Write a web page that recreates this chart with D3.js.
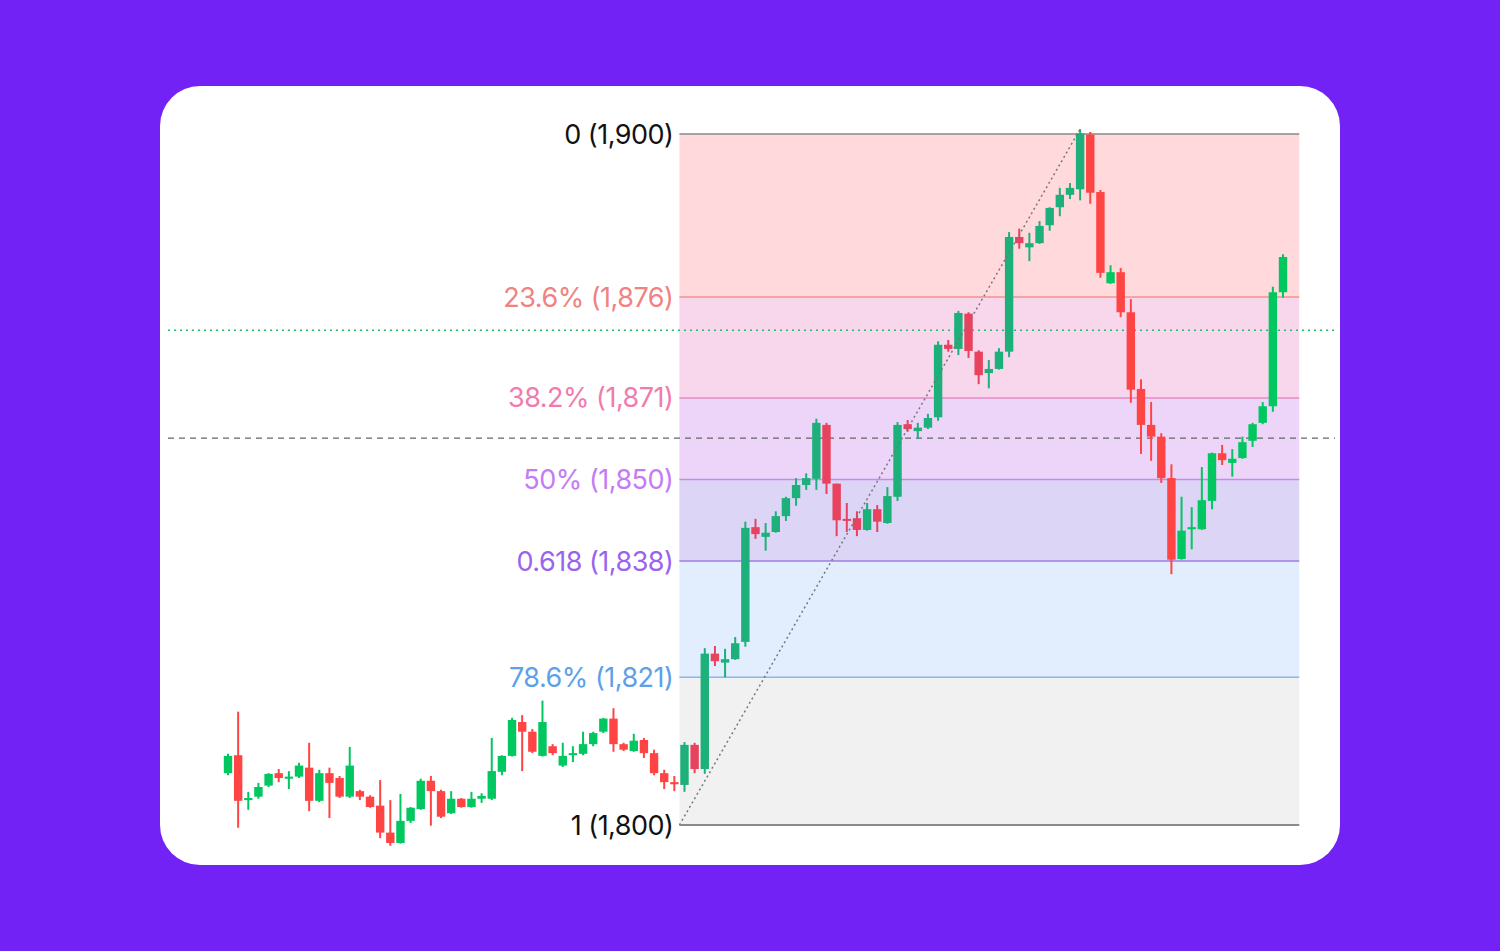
<!DOCTYPE html>
<html><head><meta charset="utf-8">
<script src="https://cdn.jsdelivr.net/npm/d3@7/dist/d3.min.js"></script>
<style>html,body{margin:0;padding:0;background:#7322F5;}svg{display:block;}</style>
</head><body><svg id="c" width="1500" height="951"></svg>
<script>
// OHLC candles (open, high, low, close)
const opens  = [1807.5,1810.1,1803.6,1804.1,1805.7,1807.5,1806.7,1807.0,1808.3,1803.5,1807.5,1806.8,1804.1,1804.9,1804.1,1802.8,1798.9,1797.4,1800.6,1802.3,1806.4,1804.9,1801.7,1803.8,1802.6,1803.8,1803.8,1807.7,1810.0,1814.9,1813.5,1810.0,1811.4,1808.6,1810.3,1810.3,1811.7,1813.5,1815.4,1811.7,1810.7,1812.3,1810.4,1807.5,1806.2,1805.8,1811.6,1808.1,1824.8,1823.5,1824.0,1826.5,1843.1,1841.7,1842.4,1844.7,1847.3,1849.2,1850.1,1857.9,1849.4,1844.3,1844.4,1842.7,1845.7,1843.7,1847.5,1858.0,1857.0,1857.5,1859.0,1869.5,1868.9,1874.0,1868.5,1865.4,1866.0,1868.5,1885.1,1883.6,1884.2,1886.8,1889.4,1891.2,1892.0,1899.9,1891.6,1878.4,1880.0,1874.2,1863.1,1857.9,1856.2,1850.2,1838.5,1842.8,1842.8,1846.9,1853.8,1852.4,1853.1,1855.6,1858.2,1860.6,1877.1];
const highs  = [1810.3,1816.4,1804.8,1806.1,1807.5,1808.1,1807.8,1809.0,1811.9,1808.0,1808.3,1807.1,1811.3,1805.1,1804.3,1806.5,1803.6,1804.5,1802.6,1806.7,1807.1,1805.1,1804.9,1803.9,1804.8,1804.6,1812.6,1810.1,1815.5,1815.9,1813.9,1818.0,1811.7,1811.9,1811.4,1813.5,1813.5,1815.5,1816.9,1811.9,1813.2,1812.6,1810.9,1808.0,1807.1,1812.0,1811.9,1825.6,1825.9,1825.5,1827.2,1843.9,1844.3,1843.7,1845.4,1847.5,1850.2,1850.9,1858.8,1858.2,1849.4,1846.6,1845.4,1846.6,1846.3,1848.9,1858.3,1858.6,1858.2,1859.5,1870.0,1870.2,1874.4,1874.2,1868.7,1867.3,1869.0,1885.8,1886.3,1885.7,1887.4,1889.4,1892.2,1892.9,1900.7,1900.3,1891.9,1881.0,1880.6,1876.1,1864.5,1861.2,1856.7,1852.2,1847.5,1846.0,1851.8,1853.9,1855.0,1854.4,1856.2,1858.2,1861.2,1877.9,1882.6];
const lows   = [1807.2,1799.6,1802.2,1803.8,1805.5,1806.2,1805.2,1806.8,1802.0,1803.3,1801.0,1803.9,1803.9,1803.6,1802.5,1798.1,1797.0,1797.3,1800.3,1802.2,1799.9,1801.0,1801.6,1802.5,1802.5,1803.2,1803.6,1807.2,1809.9,1807.8,1810.4,1809.9,1810.1,1808.4,1809.1,1810.1,1811.4,1813.3,1810.6,1810.7,1810.6,1809.7,1807.2,1805.2,1804.9,1804.8,1807.5,1807.4,1823.0,1821.4,1823.9,1825.8,1841.4,1839.7,1842.3,1844.0,1846.2,1848.5,1848.5,1847.9,1841.8,1842.4,1841.8,1842.6,1842.4,1843.6,1846.9,1856.9,1855.9,1857.3,1858.5,1868.5,1868.0,1867.6,1863.8,1863.2,1865.9,1867.7,1883.4,1881.6,1884.1,1886.0,1888.1,1890.6,1890.4,1889.9,1879.2,1878.3,1873.5,1861.1,1853.7,1852.7,1849.5,1836.3,1838.4,1839.9,1842.7,1845.7,1852.1,1850.4,1853.0,1854.7,1858.0,1859.8,1876.3];
const closes = [1810.0,1803.5,1803.9,1805.5,1807.4,1806.8,1807.0,1808.6,1803.5,1807.5,1806.1,1804.1,1808.6,1804.1,1802.6,1798.9,1797.4,1800.6,1802.5,1806.4,1804.9,1801.2,1803.8,1802.6,1803.8,1804.2,1807.8,1810.0,1815.2,1813.5,1810.6,1814.9,1810.4,1810.0,1810.4,1811.7,1813.3,1815.4,1811.7,1810.9,1812.2,1810.4,1807.5,1806.2,1805.9,1811.6,1808.1,1824.8,1823.7,1824.0,1826.3,1843.0,1842.1,1842.3,1844.7,1847.3,1849.2,1850.2,1858.2,1849.4,1844.1,1844.1,1842.7,1845.7,1843.9,1847.6,1857.9,1857.3,1857.5,1858.9,1869.5,1868.9,1874.1,1868.6,1865.1,1866.0,1868.5,1885.1,1884.2,1884.2,1886.7,1889.3,1891.2,1892.2,1900.1,1891.5,1879.9,1880.0,1874.2,1863.0,1857.9,1856.2,1850.2,1838.4,1842.6,1843.1,1847.0,1853.8,1852.8,1853.0,1855.4,1858.0,1860.6,1877.1,1882.2];

// Fibonacci levels
const fibRatios = [0, 0.236, 0.382, 0.5, 0.618, 0.786, 1];
const fibLabels = ["0 (1,900)", "23.6% (1,876)", "38.2% (1,871)", "50% (1,850)", "0.618 (1,838)", "78.6% (1,821)", "1 (1,800)"];
const fibHigh = 1900, fibLow = 1800;
const fibStartIdx = 44.5, fibEndIdx = 105.6;   // candle index range (0-based)
const trendFrom = {i: 44.5, p: 1800}, trendTo = {i: 84, p: 1900.7};
const dottedGreenLevel = 1871.6, dashedGrayLevel = 1856.0;

// styles
const levelText = ["#111","#F0837F","#F27BAE","#C57BF4","#9A63EE","#5E9FEA","#111"];
const levelLine = ["#888","#F0938F","#E68BC4","#C68BEA","#A07BE6","#8AB6EE","#666"];
const bandFill  = ["#FFD9DC","#F8D6EC","#EDD5FA","#DCD5F5","#E2EEFD","#F1F1F1"];

const svg = d3.select("#c");
svg.append("rect").attr("x",160).attr("y",86).attr("width",1180).attr("height",779).attr("rx",40).attr("fill","#fff");

const n = opens.length;
const x = d3.scaleLinear().domain([0, n-1]).range([228, 1283]);
const y = d3.scaleLinear().domain([fibLow, fibHigh]).range([825, 134]);
const lvlPrice = r => fibHigh - r*(fibHigh-fibLow);

// bands
const bx0 = x(fibStartIdx), bx1 = x(fibEndIdx);
for (let k=0;k<fibRatios.length-1;k++){
  svg.append("rect").attr("x",bx0).attr("width",bx1-bx0)
    .attr("y",y(lvlPrice(fibRatios[k]))).attr("height",y(lvlPrice(fibRatios[k+1]))-y(lvlPrice(fibRatios[k])))
    .attr("fill",bandFill[k]);
}
// level lines & labels
fibRatios.forEach((r,k)=>{
  const yy = y(lvlPrice(r));
  svg.append("line").attr("x1",bx0).attr("x2",bx1).attr("y1",yy).attr("y2",yy)
    .attr("stroke",levelLine[k]).attr("stroke-width",1.5);
  svg.append("text").attr("x",bx0-6).attr("y",yy).attr("text-anchor","end").attr("dominant-baseline","central")
    .attr("font-family","Inter, 'Noto Sans', sans-serif").attr("font-size",27).attr("letter-spacing",-0.5)
    .attr("fill",levelText[k]).text(fibLabels[k]);
});
// horizontal reference lines
svg.append("line").attr("x1",168).attr("x2",1335).attr("y1",y(dottedGreenLevel)).attr("y2",y(dottedGreenLevel))
  .attr("stroke","#1FBF6A").attr("stroke-width",1.5).attr("stroke-dasharray","2,4");
svg.append("line").attr("x1",168).attr("x2",1335).attr("y1",y(dashedGrayLevel)).attr("y2",y(dashedGrayLevel))
  .attr("stroke","#666").attr("stroke-width",1.3).attr("stroke-dasharray","6,5");

// candles
const g = svg.append("g");
d3.range(n).forEach(i=>{
  const up = closes[i] >= opens[i];
  const cx = x(i);
  const muted = cx > bx0+5 && cx < 1090;
  const col = up ? (muted ? "#1DB07A" : "#00C75F") : (muted ? "#E8425F" : "#FF4444");
  g.append("line").attr("x1",cx).attr("x2",cx).attr("y1",y(highs[i])).attr("y2",y(lows[i]))
    .attr("stroke",col).attr("stroke-width",2);
  const top = y(Math.max(opens[i],closes[i])), bot = y(Math.min(opens[i],closes[i]));
  g.append("rect").attr("x",cx-4.2).attr("width",8.4).attr("y",top).attr("height",Math.max(2,bot-top)).attr("fill",col);
});
// trend line
svg.append("line").attr("x1",x(trendFrom.i)).attr("y1",y(trendFrom.p)).attr("x2",x(trendTo.i)).attr("y2",y(trendTo.p))
  .attr("stroke","#777").attr("stroke-width",1.5).attr("stroke-dasharray","2,3");
</script></body></html>
